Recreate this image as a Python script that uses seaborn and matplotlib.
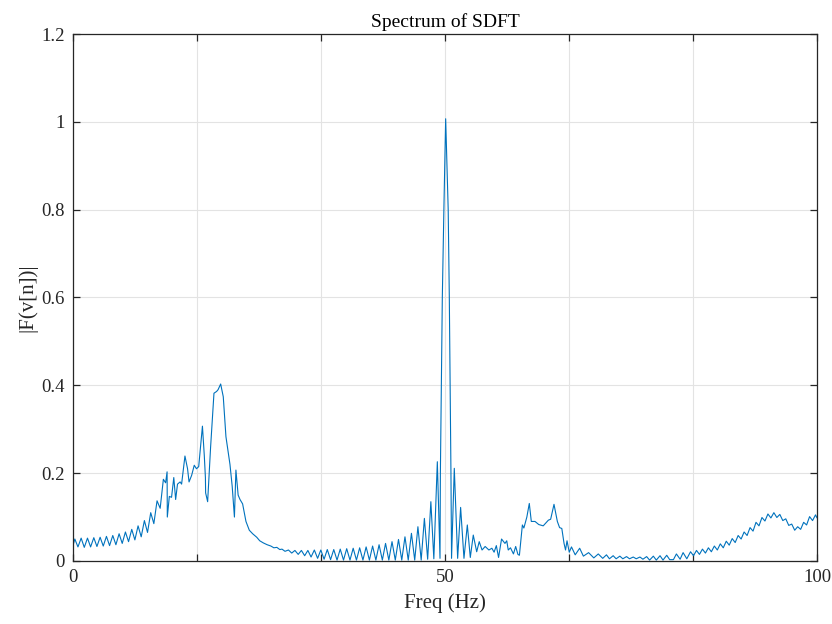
import numpy as np
import pandas as pd
import matplotlib
matplotlib.use("Agg")
import matplotlib.pyplot as plt
import seaborn as sns

# ==============================
# Spectrum (Hz, |F|)
# ==============================
freq_low = [0.0, 0.25, 0.67, 1.1, 1.52, 1.95, 2.37, 2.8, 3.22, 3.65, 4.07, 4.5, 4.92,
            5.35, 5.77, 6.2, 6.62, 7.05, 7.47, 7.9, 8.32, 8.75, 9.17, 9.6, 10.02,
            10.45, 10.87, 11.3, 11.72, 12.15]
mag_low = [0.035, 0.050, 0.032, 0.052, 0.031, 0.052, 0.032, 0.053, 0.033, 0.054, 0.034,
           0.056, 0.035, 0.058, 0.037, 0.062, 0.040, 0.066, 0.044, 0.072, 0.048, 0.080,
           0.055, 0.092, 0.065, 0.110, 0.085, 0.137, 0.120, 0.186]

freq_hump = [12.45, 12.65, 12.68, 12.95, 13.25, 13.55, 13.8, 14.05, 14.4, 14.6, 15.05,
             15.4, 15.6, 15.95, 16.3, 16.6, 16.9, 17.4, 17.65, 17.8, 17.83, 18.1, 18.5,
             18.95, 19.3, 19.5, 19.85, 20.2, 20.56, 21.1, 21.4, 21.7, 21.9, 22.2, 22.45,
             22.8, 23.25, 23.7, 24.15, 24.7]
mag_hump = [0.178, 0.203, 0.100, 0.147, 0.145, 0.190, 0.140, 0.175, 0.180, 0.175, 0.239,
            0.210, 0.180, 0.195, 0.218, 0.210, 0.215, 0.307, 0.240, 0.190, 0.155, 0.135,
            0.260, 0.382, 0.386, 0.390, 0.403, 0.374, 0.283, 0.220, 0.170, 0.100, 0.207,
            0.150, 0.140, 0.130, 0.090, 0.070, 0.062, 0.054]

freq_mid = [25.1, 25.6, 26.1, 26.6, 27.0, 27.4, 27.8, 28.09, 28.5, 28.96, 29.4, 29.83,
            30.27, 30.7, 31.14, 31.57, 32.0, 32.44, 32.88, 33.31, 33.75, 34.18, 34.62,
            35.05, 35.49, 35.92, 36.36, 36.79, 37.23, 37.66, 38.1, 38.53, 38.97, 39.4,
            39.84, 40.27, 40.71, 41.14, 41.58, 42.01, 42.45, 42.88, 43.32, 43.75, 44.19,
            44.62, 45.06, 45.49, 45.93, 46.36, 46.8, 47.23, 47.67, 48.1, 48.5, 48.97]
mag_mid = [0.046, 0.041, 0.037, 0.034, 0.030, 0.031, 0.026, 0.027, 0.022, 0.025, 0.018,
           0.024, 0.015, 0.024, 0.012, 0.024, 0.009, 0.025, 0.006, 0.025, 0.004, 0.026,
           0.003, 0.026, 0.002, 0.027, 0.002, 0.028, 0.002, 0.029, 0.002, 0.030, 0.002,
           0.032, 0.002, 0.034, 0.002, 0.037, 0.002, 0.040, 0.002, 0.044, 0.002, 0.049,
           0.002, 0.055, 0.002, 0.063, 0.002, 0.078, 0.002, 0.097, 0.004, 0.135, 0.005,
           0.226]

freq_main = [49.33, 49.38, 49.64, 49.85, 50.09, 50.43, 50.58, 50.8, 50.88]
mag_main = [0.006, 0.200, 0.600, 0.800, 1.007, 0.800, 0.600, 0.200, 0.006]

freq_upper = [51.25, 51.7, 52.1, 52.55, 53.0, 53.4, 53.8, 54.26, 54.6, 54.98, 55.4, 55.9,
              56.3, 56.6, 56.9, 57.2, 57.6, 58.06, 58.3, 58.5, 58.8, 59.2, 59.5, 59.8,
              60.0, 60.4, 60.6, 61.0, 61.33, 61.6, 62.1, 62.6, 63.2, 63.9, 64.2, 64.65,
              65.1, 65.4, 65.7, 66.0, 66.2, 66.4, 66.7, 67.0, 67.5]
mag_upper = [0.211, 0.006, 0.122, 0.006, 0.082, 0.008, 0.059, 0.021, 0.044, 0.025, 0.033,
             0.025, 0.029, 0.020, 0.035, 0.008, 0.050, 0.040, 0.046, 0.025, 0.030, 0.016,
             0.033, 0.015, 0.013, 0.082, 0.075, 0.100, 0.131, 0.090, 0.090, 0.083, 0.080,
             0.093, 0.095, 0.129, 0.090, 0.076, 0.074, 0.040, 0.025, 0.046, 0.020, 0.032,
             0.014]

freq_flat = [68.1, 68.6, 69.3, 70.0, 70.6, 71.2, 71.7, 72.1, 72.6, 73.0, 73.5, 73.9, 74.4,
             74.8, 75.3, 75.7, 76.2, 76.6, 77.1, 77.5, 78.0, 78.4, 78.9, 79.3, 79.8, 80.2,
             80.7, 81.1, 81.6, 82.0, 82.5]
mag_flat = [0.029, 0.011, 0.019, 0.007, 0.016, 0.006, 0.014, 0.005, 0.012, 0.005, 0.011,
            0.005, 0.010, 0.005, 0.009, 0.005, 0.009, 0.004, 0.010, 0.002, 0.011, 0.002,
            0.012, 0.002, 0.013, 0.003, 0.003, 0.016, 0.004, 0.019, 0.005]

freq_high = [83.0, 83.4, 83.8, 84.2, 84.6, 85.0, 85.4, 85.8, 86.2, 86.6, 87.0, 87.4, 87.8,
             88.2, 88.6, 89.0, 89.4, 89.8, 90.2, 90.6, 91.0, 91.4, 91.8, 92.2, 92.6, 93.0,
             93.4, 93.8, 94.2, 94.6, 95.0, 95.4, 95.8, 96.2, 96.6, 97.0, 97.4, 97.8, 98.2,
             98.6, 99.0, 99.4, 99.8, 100.0]
mag_high = [0.021, 0.012, 0.024, 0.015, 0.027, 0.018, 0.030, 0.021, 0.034, 0.025, 0.039,
            0.030, 0.045, 0.036, 0.051, 0.042, 0.058, 0.050, 0.066, 0.058, 0.076, 0.068,
            0.088, 0.080, 0.099, 0.091, 0.107, 0.098, 0.110, 0.099, 0.106, 0.092, 0.096,
            0.081, 0.084, 0.070, 0.078, 0.072, 0.088, 0.082, 0.101, 0.092, 0.105, 0.098]

x_tick_labels = ["0", "", "", "50", "", "", "100"]
y_tick_labels = ["0", "0.2", "0.4", "0.6", "0.8", "1", "1.2"]

df = pd.DataFrame({
    "Freq": freq_low + freq_hump + freq_mid + freq_main + freq_upper + freq_flat + freq_high,
    "Mag": mag_low + mag_hump + mag_mid + mag_main + mag_upper + mag_flat + mag_high,
})

# ==============================
# Plot (MATLAB-like look)
# ==============================
sns.set_theme(style="whitegrid")
plt.rcParams["font.family"] = ["Liberation Serif", "DejaVu Serif"]

fig = plt.figure(figsize=(8.32, 6.24), dpi=100)
ax = fig.add_axes([0.0877, 0.101, 0.8943, 0.8445])

sns.lineplot(data=df, x="Freq", y="Mag", ax=ax, color="#0072BD", linewidth=0.8,
             estimator=None, sort=False)

ax.set_xlim(0, 100)
ax.set_ylim(0, 1.2)
ax.set_xticks(np.linspace(0, 100, 7))
ax.set_xticklabels(x_tick_labels)
ax.set_yticks([0, 0.2, 0.4, 0.6, 0.8, 1.0, 1.2])
ax.set_yticklabels(y_tick_labels)

ax.set_facecolor("white")
ax.grid(True, color="#e3e3e3", linewidth=0.8)
for s in ax.spines.values():
    s.set_visible(True)
    s.set_color("#262626")
    s.set_linewidth(0.9)

ax.tick_params(axis="both", which="both", direction="in", length=5, width=0.9,
               color="#262626", labelsize=13.5, labelcolor="#262626",
               top=True, right=True, bottom=True, left=True, pad=6)

ax.set_title("Spectrum of SDFT", fontsize=14, color="black", pad=5)
ax.set_xlabel("Freq (Hz)", fontsize=15, color="#262626", labelpad=5)
ax.set_ylabel("|F(v[n])|", fontsize=15, color="#262626", labelpad=3)

fig.savefig("out.png", dpi=100, facecolor="white")
